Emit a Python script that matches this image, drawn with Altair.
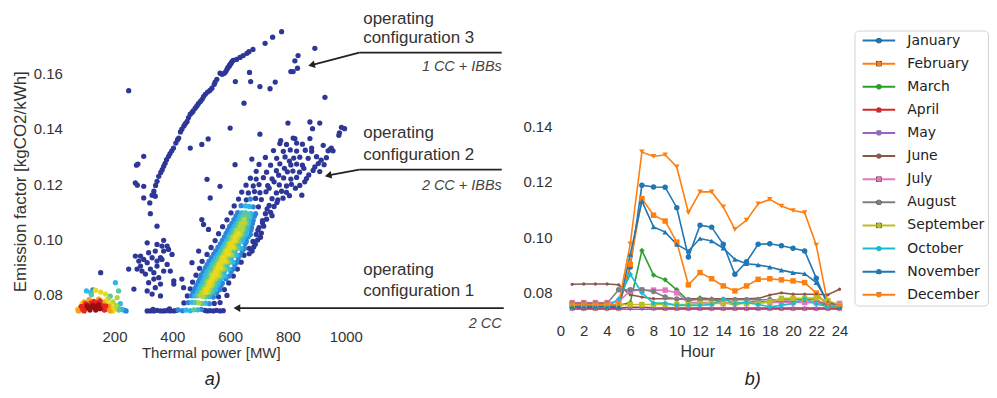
import altair as alt
import pandas as pd

# ============ panel a) : thermal power [MW] vs emission factor [kgCO2/kWh] ============
# points grouped by the colour (point density) they show in the picture
blue_pts = [
    (249, 0.1537), (778, 0.1750), (747, 0.1730), (721, 0.1708), (679, 0.1686), (665, 0.1678), (658, 0.1672),
    (645, 0.1664), (634, 0.1657), (622, 0.1650), (610, 0.1646), (605, 0.1640), (600, 0.1632), (596, 0.1625),
    (589, 0.1614), (585, 0.1606), (592, 0.1620), (598, 0.1628), (603, 0.1636), (580, 0.1600), (565, 0.1600),
    (572, 0.1596), (554, 0.1578), (548, 0.1568), (545, 0.1560), (537, 0.1546), (530, 0.1538), (522, 0.1532),
    (514, 0.1524), (508, 0.1516), (503, 0.1506), (497, 0.1498), (490, 0.1490), (485, 0.1482), (479, 0.1474),
    (472, 0.1464), (468, 0.1458), (462, 0.1452), (456, 0.1440), (451, 0.1426), (445, 0.1418), (440, 0.1410),
    (433, 0.1398), (428, 0.1388), (422, 0.1366), (418, 0.1360), (412, 0.1348), (404, 0.1330), (398, 0.1320),
    (392, 0.1310), (387, 0.1300), (380, 0.1288), (375, 0.1275), (370, 0.1264), (365, 0.1252), (360, 0.1242),
    (353, 0.1228), (347, 0.1210), (342, 0.1195), (336, 0.1174), (330, 0.1160),
    (301, 0.1300), (276, 0.1268), (281, 0.1272), (272, 0.1204), (279, 0.1196), (301, 0.1192), (341, 0.1156),
    (301, 0.1150), (336, 0.1160), (322, 0.1132), (324, 0.1093), (347, 0.1048), (313, 0.0988), (370, 0.0997),
    (382, 0.0976), (249, 0.0893), (267, 0.0821), (152, 0.0880),
    (667, 0.1603), (703, 0.1552), (738, 0.1544), (756, 0.1568), (648, 0.1492), (618, 0.1570), (600, 0.1402),
    (703, 0.1380), (671, 0.1570), (524, 0.1363), (502, 0.1343), (462, 0.1330), (617, 0.1270), (520, 0.1217),
    (565, 0.1192), (675, 0.1290), (824, 0.1645), (835, 0.1664), (818, 0.1606), (833, 0.1618), (810, 0.1606),
    (893, 0.1690), (928, 0.1513), (531, 0.1150), (502, 0.1072), (508, 0.1054), (525, 0.1036), (468, 0.0916),
    (491, 0.0958), (433, 0.0857), (405, 0.0839), (439, 0.0826),
    (272, 0.0940), (284, 0.0922), (301, 0.0928), (290, 0.0904), (313, 0.0916), (324, 0.0893), (307, 0.0875),
    (336, 0.0880), (347, 0.0904), (359, 0.0934), (370, 0.0958), (387, 0.0964), (364, 0.0976), (341, 0.0958),
    (353, 0.0862), (370, 0.0886), (382, 0.0910), (399, 0.0946), (318, 0.0844), (341, 0.0826), (330, 0.0803),
    (359, 0.0796), (295, 0.0886), (278, 0.0893), (330, 0.0934), (347, 0.0982), (318, 0.0952), (364, 0.0928),
    (359, 0.0839), (336, 0.0857), (290, 0.0940), (393, 0.0886), (405, 0.0850), (313, 0.0814), (347, 0.0922),
    (313, 0.0742), (324, 0.0742), (336, 0.0742), (347, 0.0744), (359, 0.0742), (370, 0.0742), (379, 0.0743),
    (392, 0.0742), (405, 0.0742), (415, 0.0744), (520, 0.0742), (530, 0.0743), (542, 0.0742), (553, 0.0744),
    (565, 0.0742), (576, 0.0743), (333, 0.0748), (390, 0.0749),
    (512, 0.0744), (440, 0.0771), (545, 0.0769), (565, 0.0772), (452, 0.0796), (560, 0.0793), (589, 0.0798),
    (462, 0.0822), (580, 0.0819), (470, 0.0846), (595, 0.0843), (482, 0.0871), (611, 0.0868), (494, 0.0896),
    (625, 0.0893), (503, 0.0921), (638, 0.0918), (520, 0.0946), (648, 0.0943), (666, 0.0948), (534, 0.0971),
    (666, 0.0968), (682, 0.0973), (548, 0.0996), (679, 0.0993), (695, 0.0998), (560, 0.1021), (690, 0.1018),
    (708, 0.1023), (574, 0.1046), (700, 0.1043), (716, 0.1048), (589, 0.1071), (712, 0.1068), (726, 0.1073),
    (603, 0.1096), (722, 0.1093), (740, 0.1098), (614, 0.1121), (698, 0.1118), (735, 0.1123), (752, 0.1119),
    (629, 0.1146), (656, 0.1143), (688, 0.1148), (708, 0.1144), (745, 0.1147), (765, 0.1143), (783, 0.1149),
    (640, 0.1171), (663, 0.1168), (684, 0.1173), (703, 0.1169), (724, 0.1172), (760, 0.1168), (778, 0.1174),
    (795, 0.1170), (655, 0.1196), (680, 0.1193), (700, 0.1198), (730, 0.1194), (770, 0.1197), (795, 0.1193),
    (812, 0.1199), (841, 0.1195), (670, 0.1221), (690, 0.1218), (715, 0.1223), (745, 0.1219), (785, 0.1222),
    (810, 0.1218), (830, 0.1224), (864, 0.1220), (690, 0.1246), (726, 0.1243), (760, 0.1248), (798, 0.1244),
    (817, 0.1247), (840, 0.1243), (887, 0.1249), (910, 0.1245), (700, 0.1271), (740, 0.1268), (772, 0.1273),
    (810, 0.1269), (830, 0.1272), (850, 0.1268), (905, 0.1274), (925, 0.1270), (722, 0.1296), (761, 0.1293),
    (790, 0.1298), (820, 0.1294), (841, 0.1297), (870, 0.1293), (899, 0.1299), (933, 0.1295), (750, 0.1321),
    (784, 0.1318), (808, 0.1323), (830, 0.1319), (860, 0.1322), (882, 0.1318), (945, 0.1324), (956, 0.1320),
    (772, 0.1346), (795, 0.1343), (830, 0.1348), (850, 0.1344), (922, 0.1340), (976, 0.1376), (775, 0.1357),
    (818, 0.1366), (824, 0.1364), (876, 0.1364), (985, 0.1405), (885, 0.1400), (996, 0.1400), (978, 0.1385),
    (876, 0.1424), (910, 0.1420), (800, 0.1420), (939, 0.1320), (950, 0.1330), (882, 0.1330),
    (735, 0.1185), (752, 0.1208), (768, 0.1232), (788, 0.1257), (805, 0.1283), (855, 0.1257), (872, 0.1233),
    (893, 0.1262), (915, 0.1286), (858, 0.1208), (826, 0.1185), (848, 0.1160), (805, 0.1158), (762, 0.1133),
    (728, 0.1110), (745, 0.1086), (712, 0.1060), (696, 0.1034), (705, 0.1008), (687, 0.0983), (676, 0.0958),
]
lightblue_pts = [
    (420, 0.0746), (435, 0.0743), (455, 0.0772), (528, 0.0768), (466, 0.0797), (542, 0.0792), (478, 0.0823),
    (564, 0.0818), (490, 0.0847), (573, 0.0842), (500, 0.0872), (597, 0.0868), (514, 0.0897), (610, 0.0893),
    (527, 0.0922), (623, 0.0917), (543, 0.0947), (634, 0.0943), (558, 0.0972), (650, 0.0968), (573, 0.0997),
    (656, 0.0993), (586, 0.1022), (670, 0.1018), (598, 0.1047), (674, 0.1043), (613, 0.1072), (680, 0.1068),
    (626, 0.1097), (688, 0.1093), (638, 0.1122), (680, 0.1118), (670, 0.1146), (500, 0.0748),
    (472, 0.0809), (553, 0.0808), (484, 0.0834), (568, 0.0834), (495, 0.0858), (585, 0.0858), (507, 0.0884),
    (603, 0.0884), (520, 0.0909), (616, 0.0910), (535, 0.0934), (628, 0.0934), (550, 0.0959), (642, 0.0959),
    (566, 0.0984), (652, 0.0985), (580, 0.1009), (662, 0.1009), (592, 0.1034), (672, 0.1034), (606, 0.1058),
    (677, 0.1058), (620, 0.1084), (684, 0.1084),
    (232, 0.0745), (240, 0.0742), (125, 0.0818),
]
cyan_pts = [
    (448, 0.0745), (462, 0.0743), (488, 0.0746), (468, 0.0773), (515, 0.0770), (478, 0.0796), (528, 0.0794),
    (492, 0.0822), (550, 0.0819), (504, 0.0846), (560, 0.0843), (514, 0.0871), (583, 0.0868), (528, 0.0896),
    (596, 0.0893), (543, 0.0921), (610, 0.0918), (558, 0.0946), (623, 0.0943), (573, 0.0971), (638, 0.0968),
    (588, 0.0996), (643, 0.0994), (600, 0.1021), (656, 0.1018), (613, 0.1046), (660, 0.1043), (628, 0.1071),
    (666, 0.1068), (640, 0.1096), (672, 0.1093), (653, 0.1121), (666, 0.1119),
    (488, 0.0809), (541, 0.0808), (498, 0.0834), (556, 0.0834), (509, 0.0858), (568, 0.0858), (520, 0.0884),
    (580, 0.0884), (535, 0.0909), (590, 0.0910), (550, 0.0934), (604, 0.0934), (566, 0.0959), (617, 0.0959),
    (580, 0.0984), (630, 0.0985), (594, 0.1009), (648, 0.1009), (607, 0.1034), (658, 0.1034), (620, 0.1058),
    (664, 0.1058), (634, 0.1084), (670, 0.1084),
    (203, 0.0844), (103, 0.0814), (225, 0.0748), (220, 0.0768), (118, 0.0808),
]
green_pts = [
    (475, 0.0746), (480, 0.0772), (503, 0.0769), (488, 0.0797), (516, 0.0793), (502, 0.0822), (538, 0.0818),
    (514, 0.0847), (550, 0.0843), (526, 0.0872), (572, 0.0868), (540, 0.0897), (585, 0.0893), (554, 0.0922),
    (598, 0.0918), (568, 0.0947), (612, 0.0943), (583, 0.0972), (626, 0.0968), (598, 0.0997), (632, 0.0993),
    (612, 0.1022), (645, 0.1018), (625, 0.1047), (650, 0.1043), (638, 0.1072), (656, 0.1068), (652, 0.1097),
    (661, 0.1093),
    (496, 0.0809), (532, 0.0808), (508, 0.0834), (545, 0.0833), (520, 0.0858), (558, 0.0859), (532, 0.0884),
    (568, 0.0885), (545, 0.0909), (580, 0.0910), (560, 0.0934), (594, 0.0935), (575, 0.0959), (608, 0.0960),
    (590, 0.0984), (620, 0.0985), (602, 0.1009), (636, 0.1009), (616, 0.1034), (648, 0.1034), (630, 0.1058),
    (658, 0.1058), (645, 0.1084), (662, 0.1083),
    (214, 0.0814), (215, 0.0745), (212, 0.0758), (185, 0.0795), (120, 0.0800),
]
ygreen_pts = [
    (492, 0.0771), (497, 0.0797), (506, 0.0794), (511, 0.0822), (528, 0.0819), (523, 0.0847), (540, 0.0844),
    (536, 0.0872), (562, 0.0869), (550, 0.0897), (575, 0.0894), (564, 0.0922), (589, 0.0919), (578, 0.0947),
    (603, 0.0944), (592, 0.0972), (616, 0.0969), (607, 0.0997), (623, 0.0994), (620, 0.1022), (636, 0.1019),
    (634, 0.1047), (642, 0.1044), (648, 0.1072),
    (503, 0.0808), (524, 0.0809), (520, 0.0833), (536, 0.0834), (533, 0.0858), (549, 0.0859), (546, 0.0884),
    (561, 0.0885), (558, 0.0909), (572, 0.0910), (570, 0.0934), (585, 0.0935), (584, 0.0959), (598, 0.0960),
    (596, 0.0984), (611, 0.0985), (610, 0.1009), (627, 0.1008), (624, 0.1034), (640, 0.1033), (638, 0.1058),
    (651, 0.1059),
    (200, 0.0750), (205, 0.0762), (195, 0.0775), (209, 0.0790), (178, 0.0785),
]
yellow_pts = [
    (519, 0.0821), (531, 0.0846), (544, 0.0871), (553, 0.0873), (558, 0.0896), (566, 0.0898), (572, 0.0921),
    (580, 0.0923), (586, 0.0946), (594, 0.0948), (600, 0.0971), (608, 0.0973), (615, 0.0996), (628, 0.1021),
    (515, 0.0809), (528, 0.0834), (540, 0.0859), (552, 0.0884), (563, 0.0910), (576, 0.0934), (590, 0.0960),
    (603, 0.0985), (618, 0.1009),
    (190, 0.0752), (185, 0.0766), (170, 0.0778), (134, 0.0817), (152, 0.0810), (169, 0.0803), (195, 0.0742),
    (72, 0.0748), (88, 0.0768),
]
orange_pts = [(80, 0.0745), (82, 0.0755), (75, 0.0742), (175, 0.0748), (180, 0.0758), (160, 0.0772),
              (112, 0.0783), (145, 0.0785), (95, 0.0775), (185, 0.0742)]
red_pts = [(90, 0.0748), (100, 0.0755), (95, 0.0742), (160, 0.0755), (155, 0.0762), (165, 0.0745),
           (118, 0.0770), (138, 0.0772), (150, 0.0778), (128, 0.0776), (100, 0.0768), (85, 0.0758), (170, 0.0760)]
darkred_pts = [(110, 0.0752), (120, 0.0756), (130, 0.0754), (125, 0.0762), (140, 0.0758), (115, 0.0745),
               (135, 0.0745), (150, 0.0750), (105, 0.0760), (145, 0.0765)]

density_levels = [0.0, 0.25, 0.4, 0.5, 0.62, 0.75, 0.85, 0.92, 1.0]
density_colors = ["#2d3797", "#2e86d8", "#2cb9e6", "#5cc69c", "#b2d63c", "#ead81c", "#f5a01c", "#e5261e", "#990e0e"]
point_groups = [blue_pts, lightblue_pts, cyan_pts, green_pts, ygreen_pts, yellow_pts, orange_pts, red_pts, darkred_pts]

x_ticks_a = [200, 400, 600, 800, 1000]
y_ticks_a = [0.08, 0.10, 0.12, 0.14, 0.16]

# annotation texts (page pixel positions)
ann_labels = ["operating", "configuration 3", "operating", "configuration 2", "operating", "configuration 1"]
ann_py = [16.7, 36.7, 131.7, 153.3, 269.3, 290.0]
ann_px = 364
sub_labels = ["1 CC + IBBs", "2 CC + IBBs", "2 CC"]
sub_py = [65.0, 185.0, 323.3]
sub_px = 503
seg_px = [(360, 51, 503, 51), (360, 51, 312.1, 63.35), (360, 168.3, 503, 168.3), (360, 168.3, 328.8, 174.2),
          (237.2, 307.3, 505, 307.3)]
head_px = [(312.1, 63.35, 346), (328.8, 174.2, 348.7), (237.2, 307.3, 0)]

# ============ panel b) : hourly emission factor per month ============
hours = list(range(1, 25))
months = ["January", "February", "March", "April", "May", "June", "July", "August",
          "September", "October", "November", "December"]
month_colors = ["#1f77b4", "#ff7f0e", "#2ca02c", "#d62728", "#9467bd", "#8c564b", "#e377c2", "#7f7f7f",
                "#bcbd22", "#17becf", "#1f77b4", "#ff7f0e"]
small_dot = "M0,-0.6A0.6,0.6,0,1,1,0,0.6A0.6,0.6,0,1,1,0,-0.6Z"
month_shapes = ["circle", "square", "diamond", "triangle-up", "triangle-down", small_dot, "square", "circle",
                "square", "diamond", "triangle-up", "triangle-down"]
jan = [0.0748, 0.0748, 0.0748, 0.0748, 0.0748, 0.0893, 0.1188, 0.1182, 0.1181, 0.1107, 0.0929, 0.1044,
       0.1037, 0.0975, 0.0867, 0.0912, 0.0975, 0.0977, 0.0970, 0.0961, 0.0951, 0.0853, 0.0755, 0.0748]
feb = [0.0753, 0.0753, 0.0753, 0.0753, 0.0755, 0.0903, 0.1140, 0.1080, 0.1059, 0.0983, 0.0829, 0.0873,
       0.0851, 0.0825, 0.0807, 0.0825, 0.0849, 0.0851, 0.0847, 0.0843, 0.0837, 0.0799, 0.0753, 0.0753]
mar = [0.0755, 0.0755, 0.0755, 0.0755, 0.0755, 0.0765, 0.0953, 0.0864, 0.0847, 0.0811, 0.0770, 0.0782,
       0.0778, 0.0765, 0.0758, 0.0765, 0.0770, 0.0765, 0.0770, 0.0768, 0.0765, 0.0765, 0.0755, 0.0752]
apr = [0.0745, 0.0745, 0.0745, 0.0745, 0.0745, 0.0748, 0.0748, 0.0746, 0.0745, 0.0745, 0.0745, 0.0745,
       0.0745, 0.0745, 0.0745, 0.0745, 0.0745, 0.0745, 0.0745, 0.0745, 0.0745, 0.0745, 0.0745, 0.0745]
may = [0.0741, 0.0741, 0.0741, 0.0741, 0.0741, 0.0741, 0.0741, 0.0741, 0.0741, 0.0741, 0.0741, 0.0741,
       0.0741, 0.0741, 0.0741, 0.0741, 0.0741, 0.0741, 0.0741, 0.0741, 0.0741, 0.0741, 0.0741, 0.0741]
jun = [0.0831, 0.0832, 0.0832, 0.0832, 0.0829, 0.0793, 0.0785, 0.0779, 0.0779, 0.0779, 0.0779, 0.0779,
       0.0779, 0.0779, 0.0779, 0.0779, 0.0780, 0.0792, 0.0800, 0.0795, 0.0795, 0.0795, 0.0793, 0.0813]
jul = [0.0765, 0.0765, 0.0765, 0.0765, 0.0768, 0.0808, 0.0810, 0.0810, 0.0810, 0.0800, 0.0765, 0.0765,
       0.0765, 0.0765, 0.0765, 0.0765, 0.0765, 0.0765, 0.0765, 0.0765, 0.0765, 0.0765, 0.0762, 0.0762]
aug = [0.0762, 0.0762, 0.0762, 0.0762, 0.0811, 0.0811, 0.0811, 0.0805, 0.0785, 0.0778, 0.0775, 0.0775,
       0.0775, 0.0775, 0.0775, 0.0775, 0.0775, 0.0775, 0.0775, 0.0775, 0.0775, 0.0775, 0.0755, 0.0755]
sep = [0.0755, 0.0755, 0.0755, 0.0755, 0.0756, 0.0758, 0.0758, 0.0758, 0.0758, 0.0758, 0.0758, 0.0762,
       0.0762, 0.0762, 0.0762, 0.0762, 0.0762, 0.0768, 0.0780, 0.0780, 0.0780, 0.0782, 0.0772, 0.0755]
octo = [0.0748, 0.0755, 0.0750, 0.0750, 0.0778, 0.0867, 0.0800, 0.0763, 0.0763, 0.0755, 0.0755, 0.0755,
        0.0758, 0.0778, 0.0762, 0.0765, 0.0758, 0.0750, 0.0755, 0.0762, 0.0778, 0.0760, 0.0750, 0.0750]
nov = [0.0752, 0.0752, 0.0752, 0.0752, 0.0752, 0.0939, 0.1131, 0.1038, 0.1019, 0.0975, 0.0951, 0.0996,
       0.0987, 0.0961, 0.0921, 0.0905, 0.0901, 0.0893, 0.0882, 0.0873, 0.0869, 0.0837, 0.0767, 0.0750]
dec = [0.0757, 0.0757, 0.0757, 0.0757, 0.0760, 0.0977, 0.1308, 0.1292, 0.1298, 0.1254, 0.1089, 0.1164,
       0.1164, 0.1110, 0.1029, 0.1062, 0.1121, 0.1137, 0.1113, 0.1097, 0.1089, 0.0972, 0.0758, 0.0752]
series_b = [jan, feb, mar, apr, may, jun, jul, aug, sep, octo, nov, dec]
x_ticks_b = list(range(0, 25, 2))
y_ticks_b = [0.08, 0.10, 0.12, 0.14]

# ============ layout ============
W1, H, W2, GAP = 438, 304, 280, 56
X1, Y1 = [40, 1550], [0.07144, 0.18079]
X2, Y2 = [0, 24], [0.07073, 0.17996]
OX1, OY = 68.0, 13.8
OX2 = OX1 + W1 + GAP
FONT = "Liberation Sans"


def ax1(px):
    return X1[0] + (px - OX1) * (X1[1] - X1[0]) / W1


def ay1(py):
    return Y1[1] - (py - OY) * (Y1[1] - Y1[0]) / H


def ax2(px):
    return X2[0] + (px - OX2) * (X2[1] - X2[0]) / W2


def ay2(py):
    return Y2[1] - (py - OY) * (Y2[1] - Y2[0]) / H


rows = []
for lvl, grp in zip(density_levels, point_groups):
    for mw, ef in grp:
        rows.append({"x": mw, "y": ef, "d": lvl})
df_a = pd.DataFrame(rows)

xs1 = alt.Scale(domain=X1, nice=False, zero=False)
ys1 = alt.Scale(domain=Y1, nice=False, zero=False)
xa = alt.X("x:Q", scale=xs1, axis=alt.Axis(
    values=x_ticks_a, format="d", title="Thermal power [MW]", labelFlush=False, labelOverlap=False,
    labelPadding=18, labelBaseline="middle", titleX=143, titleY=34.2, titleBaseline="middle",
    titleAlign="center", titleFontSize=15, labelFontSize=15))
ya = alt.Y("y:Q", scale=ys1, axis=alt.Axis(
    values=y_ticks_a, format=".2f", title="Emission factor [kgCO2/kWh]", labelPadding=6,
    titleX=-48, titleY=166.2, titleBaseline="middle", titleAlign="center", titleFontSize=17,
    labelFontSize=15, labelOverlap=False))

scatter = alt.Chart(df_a).mark_circle(size=28, opacity=1).encode(
    x=xa, y=ya,
    color=alt.Color("d:Q", scale=alt.Scale(domain=density_levels, range=density_colors), legend=None),
)

df_ann = pd.DataFrame({"label": ann_labels, "x": [ax1(ann_px)] * len(ann_labels), "y": [ay1(v) for v in ann_py]})
df_sub = pd.DataFrame({"label": sub_labels, "x": [ax1(sub_px)] * len(sub_labels), "y": [ay1(v) for v in sub_py]})
df_seg = pd.DataFrame({"x": [ax1(s[0]) for s in seg_px], "y": [ay1(s[1]) for s in seg_px],
                       "x2": [ax1(s[2]) for s in seg_px], "y2": [ay1(s[3]) for s in seg_px]})
df_head = pd.DataFrame({"x": [ax1(h[0]) for h in head_px], "y": [ay1(h[1]) for h in head_px],
                        "ang": [h[2] for h in head_px]})
df_pa = pd.DataFrame({"label": ["a)"], "x": [ax1(213)], "y": [ay1(379)]})

ann_text = alt.Chart(df_ann).mark_text(align="left", baseline="middle", font=FONT, fontSize=17,
                                       color="#333333").encode(x=xa, y=ya, text="label:N")
sub_text = alt.Chart(df_sub).mark_text(align="right", baseline="middle", font=FONT, fontSize=14.5,
                                       fontStyle="italic", color="#444444").encode(x=xa, y=ya, text="label:N")
segs = alt.Chart(df_seg).mark_rule(strokeWidth=1.8, color="#222222").encode(
    x=xa, y=ya, x2="x2:Q", y2="y2:Q")
heads = alt.Chart(df_head).mark_point(shape="triangle-left", filled=True, size=60, opacity=1,
                                      color="#222222").encode(
    x=xa, y=ya, angle=alt.Angle("ang:Q", scale=None))
pa_text = alt.Chart(df_pa).mark_text(align="center", baseline="middle", font=FONT, fontSize=18,
                                     fontStyle="italic", color="#222222").encode(x=xa, y=ya, text="label:N")

left = alt.layer(scatter, segs, heads, ann_text, sub_text, pa_text).properties(width=W1, height=H)

# ---- right panel
rows_b = []
for m, vals in zip(months, series_b):
    for h, v in zip(hours, vals):
        rows_b.append({"hour": h, "ef": v, "month": m})
df_b = pd.DataFrame(rows_b)

xs2 = alt.Scale(domain=X2, nice=False, zero=False)
ys2 = alt.Scale(domain=Y2, nice=False, zero=False)
# legends of a concat are placed from the first panel's origin
LX, LY = 857 - OX1, 28.75 - OY
leg_common = dict(orient="none", legendX=LX, legendY=LY, title=None, direction="vertical",
                  labelFont="DejaVu Sans", labelFontSize=14, labelColor="#222222", padding=3,
                  rowPadding=9.2, symbolOffset=14.5, labelOffset=21.5, labelLimit=300)

xb = alt.X("hour:Q", scale=xs2, axis=alt.Axis(
    values=x_ticks_b, format="d", title="Hour", labelFlush=False, labelOverlap=False, labelPadding=12.2,
    labelBaseline="middle", titleX=137.2, titleY=32.9, titleBaseline="middle", titleAlign="center",
    titleFontSize=16, labelFontSize=15))
yb = alt.Y("ef:Q", scale=ys2, axis=alt.Axis(values=y_ticks_b, format=".2f", title=None, labelPadding=8.6,
                                            labelFontSize=15, labelOverlap=False))

lines = alt.Chart(df_b).mark_line(strokeWidth=1.6).encode(
    x=xb, y=yb,
    stroke=alt.Stroke("month:N", scale=alt.Scale(domain=months, range=month_colors),
                      legend=alt.Legend(symbolType="M-3.27,0H3.27", symbolSize=100, symbolStrokeWidth=2,
                                        strokeColor="#d4d4d4", cornerRadius=4, **leg_common)),
)
mark_leg = dict(symbolSize=28, labelOpacity=0, **leg_common)
points = alt.Chart(df_b).mark_point(filled=True, size=30, opacity=1).encode(
    x=xb, y=yb,
    fill=alt.Fill("month:N", sort=months, scale=alt.Scale(range=month_colors), legend=alt.Legend(**mark_leg)),
    shape=alt.Shape("month:N", sort=months, scale=alt.Scale(range=month_shapes), legend=alt.Legend(**mark_leg)),
)
df_pb = pd.DataFrame({"label": ["b)"], "hour": [ax2(755)], "ef": [ay2(379)]})
pb_text = alt.Chart(df_pb).mark_text(align="center", baseline="middle", font=FONT, fontSize=18,
                                     fontStyle="italic", color="#222222").encode(x=xb, y=yb, text="label:N")

right = alt.layer(lines, points, pb_text).properties(width=W2, height=H)

chart = alt.hconcat(left, right, spacing=GAP, bounds="flush").resolve_scale(
    x="independent", y="independent"
).properties(
    padding={"left": 3.5, "top": 0, "right": 0, "bottom": 0}
).configure_view(stroke=None).configure_axis(
    grid=False, domain=False, ticks=False, tickSize=0, labelFont=FONT, titleFont=FONT,
    labelColor="#333333", titleColor="#333333", titleFontWeight="normal"
)

chart.save("out.html", embed_options={"renderer": "svg", "actions": False})
